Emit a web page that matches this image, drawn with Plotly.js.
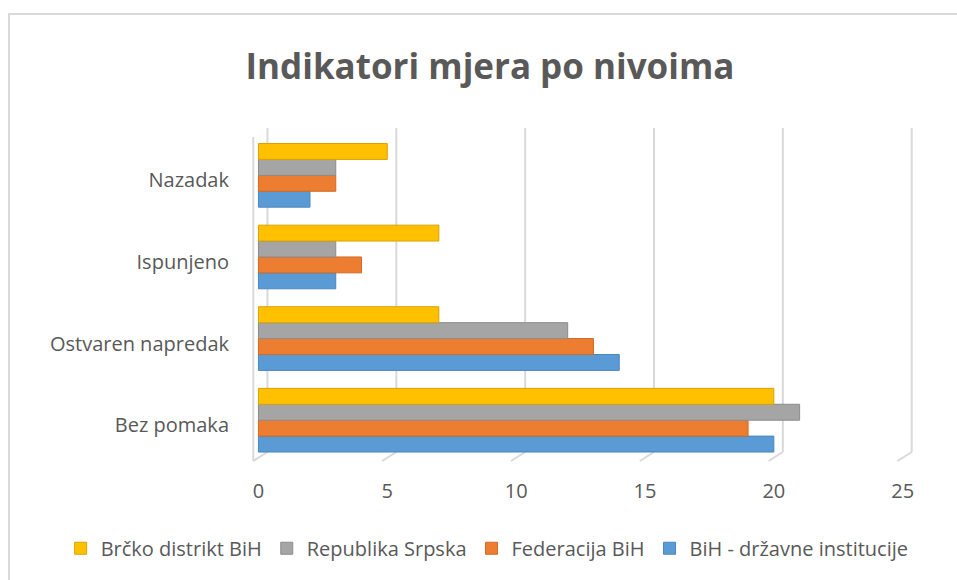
<!DOCTYPE html>
<html>
<head>
<meta charset="utf-8">
<script src="https://cdn.plot.ly/plotly-3.0.1.min.js"></script>
<style>
  html, body { margin: 0; padding: 0; background: #fff; }
  #wrap { position: relative; width: 957px; height: 580px; overflow: hidden; }
  #chart { position: absolute; left: 0; top: 0; width: 957px; height: 580px; }
  #frame { position: absolute; left: 8px; top: 13px; width: 1000px; height: 1000px;
           border-left: 2px solid #d9d9d9; border-top: 2px solid #d9d9d9; pointer-events: none; }
</style>
</head>
<body>
<div id="wrap">
  <div id="chart"></div>
  <div id="frame"></div>
</div>
<script>
const categories = ['Bez pomaka', 'Ostvaren napredak', 'Ispunjeno', 'Nazadak'];
const seriesNames = ['BiH - državne institucije', 'Federacija BiH', 'Republika Srpska', 'Brčko distrikt BiH'];
const bihValues = [20, 14, 3, 2];
const fbihValues = [19, 13, 4, 3];
const rsValues = [21, 12, 3, 3];
const brckoValues = [20, 7, 7, 5];
const xTicks = [0, 5, 10, 15, 20, 25];

const colors = ['#5B9BD5', '#ED7D31', '#A5A5A5', '#FFC000'];
const edges = ['#4A86BF', '#D26A22', '#8C8C8C', '#D9A300'];
const allValues = [bihValues, fbihValues, rsValues, brckoValues];

const FONT = 'Open Sans, Noto Sans, sans-serif';
const GRID = '#d9d9d9';

const data = allValues.map((vals, i) => ({
  type: 'bar',
  orientation: 'h',
  name: seriesNames[i],
  y: categories,
  x: vals,
  marker: { color: colors[i], line: { color: edges[i], width: 1 } },
  hoverinfo: 'x+name'
}));

// Excel-style 3D walls: back gridlines, slanted floor lines, left wall edge
const BACK = 0.35, FRONT = -0.2, FLOOR = 0.027;
const shapes = [];
xTicks.forEach(t => {
  shapes.push({ type: 'line', xref: 'x', yref: 'paper', layer: 'below',
    x0: t + BACK, x1: t + BACK, y0: FLOOR, y1: 1, line: { color: GRID, width: 2 } });
  shapes.push({ type: 'line', xref: 'x', yref: 'paper', layer: 'below',
    x0: t + BACK, x1: t + FRONT, y0: FLOOR, y1: 0, line: { color: GRID, width: 2 } });
});
shapes.push({ type: 'line', xref: 'x', yref: 'paper', layer: 'below',
  x0: xTicks[0] + FRONT, x1: xTicks[0] + FRONT, y0: 0, y1: 1 - FLOOR, line: { color: GRID, width: 2 } });

const layout = {
  width: 957, height: 580,
  paper_bgcolor: '#ffffff', plot_bgcolor: 'rgba(0,0,0,0)',
  margin: { l: 251.5, r: 44, t: 128, b: 116 },
  font: { family: FONT, color: '#595959', size: 20 },
  title: {
    text: '<b>Indikatori mjera po nivoima</b>',
    font: { family: FONT, size: 35, color: '#595959' },
    xref: 'container', yref: 'container',
    x: 0.512, xanchor: 'center', y: 0.885, yanchor: 'middle'
  },
  barmode: 'group',
  bargap: 0.22,
  bargroupgap: 0,
  xaxis: {
    range: [-0.25, 25.4],
    tickvals: xTicks,
    ticktext: xTicks.map(String),
    showgrid: false,
    zeroline: false, showline: false,
    ticks: '', ticklabelstandoff: 16,
    tickfont: { family: FONT, size: 20, color: '#595959' },
    fixedrange: true
  },
  yaxis: {
    type: 'category',
    categoryorder: 'array', categoryarray: categories,
    range: [-0.5, 3.58],
    showgrid: false, zeroline: false, showline: false,
    ticks: '', ticklabelstandoff: 22, ticklabelshift: 5,
    tickfont: { family: FONT, size: 20, color: '#595959' },
    fixedrange: true
  },
  shapes: shapes,
  showlegend: true,
  legend: {
    orientation: 'h', traceorder: 'reversed',
    xref: 'paper', yref: 'paper',
    x: -0.2895, xanchor: 'left',
    y: -0.262, yanchor: 'middle',
    font: { family: FONT, size: 20, color: '#595959' },
    itemwidth: 30
  }
};

Plotly.newPlot('chart', data, layout, { displayModeBar: false, staticPlot: true });
</script>
</body>
</html>
